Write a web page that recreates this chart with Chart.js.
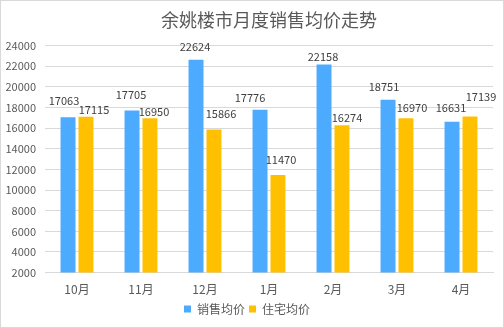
<!DOCTYPE html>
<html>
<head>
<meta charset="utf-8">
<script src="https://cdn.jsdelivr.net/npm/chart.js@4/dist/chart.umd.min.js"></script>
<style>
    html, body { margin: 0; padding: 0; background: #fff; }
    #wrap { width: 502px; height: 326px; border: 1px solid #d9d9d9; position: relative; }
</style>
</head>
<body>
<div id="wrap"><canvas id="priceChart" width="502" height="326"></canvas></div>
<script>
    // 数据
    const months = ["10月", "11月", "12月", "1月", "2月", "3月", "4月"];
    const salesAvg = [17063, 17705, 22624, 17776, 22158, 18751, 16631];
    const houseAvg = [17115, 16950, 15866, 11470, 16274, 16970, 17139];
    const seriesNames = ["销售均价", "住宅均价"];

    const cjk = '"Microsoft YaHei", "Noto Sans CJK SC", sans-serif';

    // 柱顶数值标签 (原图中标签有手动挪动, 这里用微调量)
    const valueLabels = {
        id: "valueLabels",
        afterDatasetsDraw(chart, args, opts) {
            const ctx = chart.ctx;
            ctx.save();
            ctx.font = "11px " + cjk;
            ctx.fillStyle = "#404040";
            ctx.textAlign = "center";
            ctx.textBaseline = "alphabetic";
            chart.data.datasets.forEach((ds, i) => {
                chart.getDatasetMeta(i).data.forEach((bar, j) => {
                    const dx = opts.dx[i][j];
                    const gap = opts.gap[i][j];
                    ctx.fillText(ds.data[j], bar.x + dx, bar.y - gap);
                });
            });
            ctx.restore();
        }
    };

    const ctx = document.getElementById("priceChart").getContext("2d");
    new Chart(ctx, {
        type: "bar",
        data: {
            labels: months,
            datasets: [
                { label: seriesNames[0], data: salesAvg, backgroundColor: "#4DABFF" },
                { label: seriesNames[1], data: houseAvg, backgroundColor: "#FFC000" }
            ]
        },
        options: {
            responsive: false,
            animation: false,
            categoryPercentage: 0.561,
            barPercentage: 0.833,
            layout: { padding: { left: 0, right: 10, top: 0, bottom: 2 } },
            plugins: {
                title: {
                    display: true,
                    fullSize: false,
                    text: "余姚楼市月度销售均价走势",
                    color: "#595959",
                    font: { family: cjk, size: 18, weight: "normal" },
                    padding: { top: 8, bottom: 15 }
                },
                legend: {
                    position: "bottom",
                    labels: {
                        color: "#595959",
                        font: { family: cjk, size: 12 },
                        boxWidth: 7,
                        boxHeight: 7,
                        padding: 4
                    }
                },
                tooltip: { enabled: false },
                valueLabels: {
                    dx: [[-4, -1, -1, -10, -1, -4, -1], [8, 4, 7, 3, 5, 6, 11]],
                    gap: [[12, 12, 9, 8, 4, 9, 10], [3, 2, 12, 11, 3, 6, 15]]
                }
            },
            scales: {
                x: {
                    grid: { display: false },
                    border: { color: "#d9d9d9" },
                    ticks: { color: "#595959", font: { family: cjk, size: 12 }, padding: 2 }
                },
                y: {
                    min: 2000,
                    max: 24000,
                    afterFit(scale) { scale.width = 44; },
                    ticks: {
                        stepSize: 2000,
                        color: "#595959",
                        font: { family: cjk, size: 11 },
                        padding: 9,
                        callback: v => String(v)
                    },
                    grid: { color: "#d9d9d9", drawTicks: false },
                    border: { display: false }
                }
            }
        },
        plugins: [valueLabels]
    });
</script>
</body>
</html>
